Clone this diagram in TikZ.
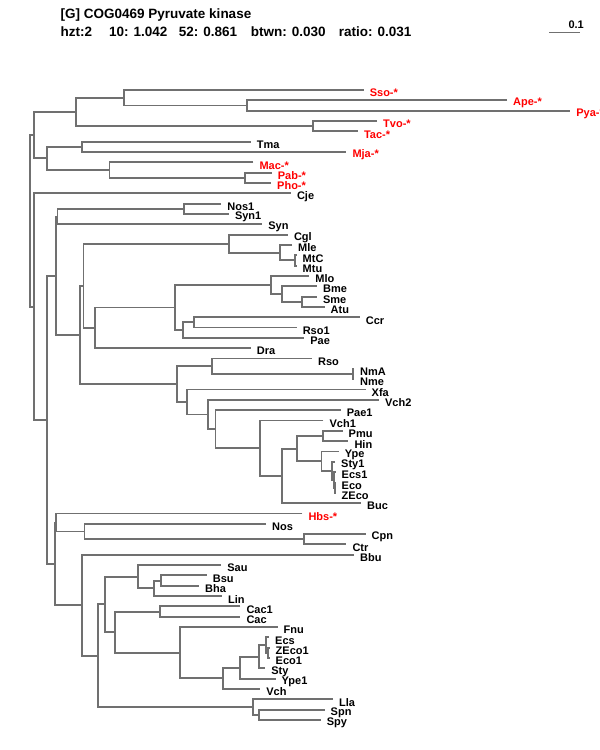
\documentclass[tikz,border=0pt]{standalone}
\usepackage{fontspec}
\setmainfont{Liberation Sans}
\begin{document}
\begin{tikzpicture}[x=1pt,y=-1pt,
    branch/.style={draw=treegray,line width=1.9pt},
    head/.style={font=\fontsize{13.5}{15}\selectfont\bfseries,inner sep=0pt,anchor=base west},
    tip/.style={font=\fontsize{11}{12}\selectfont\bfseries,inner sep=0pt,yshift=-3pt},
    marked/.style={tip,text=red},
    label distance=6pt]
    \definecolor{treegray}{RGB}{112,112,112}
    \useasboundingbox (0,0) rectangle (600,750);
    \clip (0,0) rectangle (600,750);
    % header
    \node[head] (title) at (60.5,18) {[G] COG0469 Pyruvate kinase};
    \node[head] (hzt) at (60.5,36.5) {hzt:2};
    \node[head] (ten) at (109,36.5) {10: 1.042};
    \node[head] (fiftytwo) at (178.7,36.5) {52: 0.861};
    \node[head] (btwn) at (250.7,36.5) {btwn: 0.030};
    \node[head] (ratio) at (338.7,36.5) {ratio: 0.031};
    % scale bar
    \coordinate (barL) at (549,32.5);
    \coordinate (barR) at (580,32.5);
    \draw[branch] (barL) -- (barR);
    \node[tip,yshift=3pt,anchor=base east] (barlab) at (584,28) {0.1};
    \begin{scope}[y=-10.328pt,yshift=-79.67pt]
    % leaves, one per row
    \coordinate[label={[marked]right:Sso-*}] (Sso) at (363.6,1);
    \coordinate[label={[marked]right:Ape-*}] (Ape) at (507,2);
    \coordinate[label={[marked]right:Pya-*}] (Pya) at (570.2,3);
    \coordinate[label={[marked]right:Tvo-*}] (Tvo) at (377,4);
    \coordinate[label={[marked]right:Tac-*}] (Tac) at (357.8,5);
    \coordinate[label={[tip]right:Tma}] (Tma) at (250.7,6);
    \coordinate[label={[marked]right:Mja-*}] (Mja) at (346.3,7);
    \coordinate[label={[marked]right:Mac-*}] (Mac) at (253.3,8);
    \coordinate[label={[marked]right:Pab-*}] (Pab) at (271.7,9);
    \coordinate[label={[marked]right:Pho-*}] (Pho) at (271,10);
    \coordinate[label={[tip]right:Cje}] (Cje) at (290.8,11);
    \coordinate[label={[tip]right:Nos1}] (Nos1) at (221.2,12);
    \coordinate[label={[tip]right:Syn1}] (Syn1) at (228.8,13);
    \coordinate[label={[tip]right:Syn}] (Syn) at (262.1,14);
    \coordinate[label={[tip]right:Cgl}] (Cgl) at (287.8,15);
    \coordinate[label={[tip]right:Mle}] (Mle) at (292,16);
    \coordinate[label={[tip]right:MtC}] (MtC) at (296.5,17);
    \coordinate[label={[tip]right:Mtu}] (Mtu) at (296.5,18);
    \coordinate[label={[tip]right:Mlo}] (Mlo) at (309.2,19);
    \coordinate[label={[tip]right:Bme}] (Bme) at (316.9,20);
    \coordinate[label={[tip]right:Sme}] (Sme) at (316.9,21);
    \coordinate[label={[tip]right:Atu}] (Atu) at (324.5,22);
    \coordinate[label={[tip]right:Ccr}] (Ccr) at (359.7,23);
    \coordinate[label={[tip]right:Rso1}] (Rso1) at (296.6,24);
    \coordinate[label={[tip]right:Pae}] (Pae) at (304.2,25);
    \coordinate[label={[tip]right:Dra}] (Dra) at (250.7,26);
    \coordinate[label={[tip]right:Rso}] (Rso) at (311.9,27);
    \coordinate[label={[tip]right:NmA}] (NmA) at (354,28);
    \coordinate[label={[tip]right:Nme}] (Nme) at (354,29);
    \coordinate[label={[tip]right:Xfa}] (Xfa) at (365.5,30);
    \coordinate[label={[tip]right:Vch2}] (Vch2) at (378.9,31);
    \coordinate[label={[tip]right:Pae1}] (Pae1) at (340.6,32);
    \coordinate[label={[tip]right:Vch1}] (Vch1) at (323.4,33);
    \coordinate[label={[tip]right:Pmu}] (Pmu) at (342.5,34);
    \coordinate[label={[tip]right:Hin}] (Hin) at (348.3,35);
    \coordinate[label={[tip]right:Ype}] (Ype) at (338.7,36);
    \coordinate[label={[tip]right:Sty1}] (Sty1) at (335,37);
    \coordinate[label={[tip]right:Ecs1}] (Ecs1) at (335.5,38);
    \coordinate[label={[tip]right:Eco}] (Eco) at (335.5,39);
    \coordinate[label={[tip]right:ZEco}] (ZEco) at (335.5,40);
    \coordinate[label={[tip]right:Buc}] (Buc) at (360.9,41);
    \coordinate[label={[marked]right:Hbs-*}] (Hbs) at (302.3,42);
    \coordinate[label={[tip]right:Nos}] (Nos) at (266,43);
    \coordinate[label={[tip]right:Cpn}] (Cpn) at (365.5,44);
    \coordinate[label={[tip]right:Ctr}] (Ctr) at (346.3,45);
    \coordinate[label={[tip]right:Bbu}] (Bbu) at (354,46);
    \coordinate[label={[tip]right:Sau}] (Sau) at (221.2,47);
    \coordinate[label={[tip]right:Bsu}] (Bsu) at (206.7,48);
    \coordinate[label={[tip]right:Bha}] (Bha) at (199,49);
    \coordinate[label={[tip]right:Lin}] (Lin) at (222,50);
    \coordinate[label={[tip]right:Cac1}] (Cac1) at (240.3,51);
    \coordinate[label={[tip]right:Cac}] (Cac) at (240.3,52);
    \coordinate[label={[tip]right:Fnu}] (Fnu) at (277.5,53);
    \coordinate[label={[tip]right:Ecs}] (Ecs) at (269,54);
    \coordinate[label={[tip]right:ZEco1}] (ZEco1) at (269.5,55);
    \coordinate[label={[tip]right:Eco1}] (Eco1) at (269.5,56);
    \coordinate[label={[tip]right:Sty}] (Sty) at (265.2,57);
    \coordinate[label={[tip]right:Ype1}] (Ype1) at (275.5,58);
    \coordinate[label={[tip]right:Vch}] (Vch) at (260.2,59);
    \coordinate[label={[tip]right:Lla}] (Lla) at (333,60);
    \coordinate[label={[tip]right:Spn}] (Spn) at (324.5,61);
    \coordinate[label={[tip]right:Spy}] (Spy) at (320.7,62);
    % inner nodes
    \coordinate (nAP) at (246.8,2.5);
    \coordinate (nSso) at (123.6,1.75);
    \coordinate (nTT) at (313,4.5);
    \coordinate (nArc) at (76.2,3.125);
    \coordinate (nTM) at (82,6.5);
    \coordinate (nPP) at (244.9,9.5);
    \coordinate (nMac) at (109.5,8.75);
    \coordinate (nEur) at (46.7,7.625);
    \coordinate (nTop) at (33.7,5.375);
    \coordinate (nNS) at (183.7,12.5);
    \coordinate (nCya) at (57.5,13.25);
    \coordinate (nMM) at (294.7,17.5);
    \coordinate (nMle) at (280.2,16.75);
    \coordinate (nCgl) at (228.9,15.875);
    \coordinate (nSA) at (302.3,21.5);
    \coordinate (nBme) at (282,20.75);
    \coordinate (nMlo) at (270.9,19.875);
    \coordinate (nCR) at (194.4,23.5);
    \coordinate (nPae) at (182.9,24.25);
    \coordinate (nAlp) at (175.3,22.0625);
    \coordinate (nDra) at (95,24.03);
    \coordinate (nAct) at (83.5,19.95);
    \coordinate (nNN) at (352.8,28.5);
    \coordinate (nRso) at (212.4,27.75);
    \coordinate (nEZ) at (335,39.5);
    \coordinate (nE1) at (333.8,38.75);
    \coordinate (nS1) at (332.3,37.875);
    \coordinate (nYpe) at (321.5,36.94);
    \coordinate (nPH) at (323.4,34.5);
    \coordinate (nEnt) at (297,35.72);
    \coordinate (nBuc) at (282,38.36);
    \coordinate (nVc1) at (260.2,35.68);
    \coordinate (nPa1) at (215.5,33.84);
    \coordinate (nVc2) at (207.8,32.42);
    \coordinate (nXfa) at (186.8,31.21);
    \coordinate (nGam) at (176.8,29.48);
    \coordinate (nPro) at (80,24.72);
    \coordinate (nMid) at (56.3,18.98);
    \coordinate (nCC) at (304.2,44.5);
    \coordinate (nNos) at (84.5,43.75);
    \coordinate (nHbs) at (56.3,42.875);
    \coordinate (nBB) at (160.7,48.5);
    \coordinate (nLin) at (153.8,49.25);
    \coordinate (nSau) at (137.8,48.125);
    \coordinate (nCac) at (160,51.5);
    \coordinate (nZE) at (268.3,55.5);
    \coordinate (nEcs) at (266,54.75);
    \coordinate (nSty) at (259,55.875);
    \coordinate (nYp1) at (240,56.94);
    \coordinate (nVch) at (223.2,57.97);
    \coordinate (nFnu) at (179.9,55.48);
    \coordinate (nClo) at (115,53.49);
    \coordinate (nBac) at (104.7,50.81);
    \coordinate (nSS) at (259.3,61.5);
    \coordinate (nLla) at (253.3,60.75);
    \coordinate (nFir) at (97.8,55.78);
    \coordinate (nBbu) at (81.6,50.89);
    \coordinate (nLow) at (55.3,46.88);
    \coordinate (nBot) at (46.7,32.93);
    \coordinate (nCje) at (34,21.97);
    \coordinate (root) at (29.7,13.67);
    % brackets: parent / upper child / lower child
    \foreach \p/\a/\b in {nAP/Ape/Pya, nSso/Sso/nAP, nTT/Tvo/Tac, nArc/nSso/nTT,
        nTM/Tma/Mja, nPP/Pab/Pho, nMac/Mac/nPP, nEur/nTM/nMac, nTop/nArc/nEur,
        nNS/Nos1/Syn1, nCya/nNS/Syn, nMM/MtC/Mtu, nMle/Mle/nMM, nCgl/Cgl/nMle,
        nSA/Sme/Atu, nBme/Bme/nSA, nMlo/Mlo/nBme, nCR/Ccr/Rso1, nPae/nCR/Pae,
        nAlp/nMlo/nPae, nDra/nAlp/Dra, nAct/nCgl/nDra, nNN/NmA/Nme, nRso/Rso/nNN,
        nEZ/Eco/ZEco, nE1/Ecs1/nEZ, nS1/Sty1/nE1, nYpe/Ype/nS1, nPH/Pmu/Hin,
        nEnt/nPH/nYpe, nBuc/nEnt/Buc, nVc1/Vch1/nBuc, nPa1/Pae1/nVc1,
        nVc2/Vch2/nPa1, nXfa/Xfa/nVc2, nGam/nRso/nXfa, nPro/nAct/nGam,
        nMid/nCya/nPro, nCC/Cpn/Ctr, nNos/Nos/nCC, nHbs/Hbs/nNos,
        nBB/Bsu/Bha, nLin/nBB/Lin, nSau/Sau/nLin, nCac/Cac1/Cac,
        nZE/ZEco1/Eco1, nEcs/Ecs/nZE, nSty/nEcs/Sty, nYp1/nSty/Ype1,
        nVch/nYp1/Vch, nFnu/Fnu/nVch, nClo/nCac/nFnu, nBac/nSau/nClo,
        nSS/Spn/Spy, nLla/Lla/nSS, nFir/nBac/nLla, nBbu/Bbu/nFir,
        nLow/nHbs/nBbu, nBot/nMid/nLow, nCje/Cje/nBot, root/nTop/nCje}
      \draw[branch] (\a) -| (\p) |- (\b);
    \end{scope}
\end{tikzpicture}
\end{document}
